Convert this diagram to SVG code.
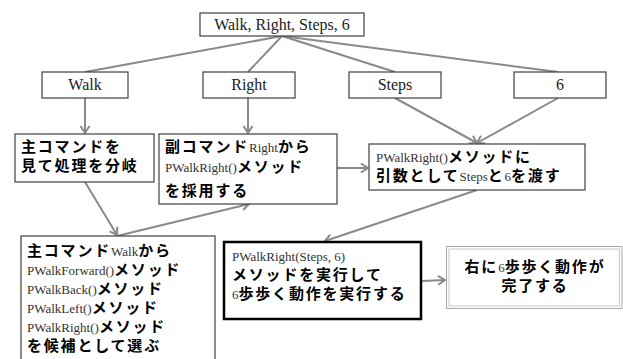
<svg xmlns="http://www.w3.org/2000/svg" width="623" height="359" viewBox="0 0 623 359">
<style>
.box{fill:#fff;stroke:#404040;stroke-width:1.2}
.thick{fill:#fff;stroke:#000;stroke-width:2.5}
.top{font-family:"Liberation Serif",serif;font-size:16px;fill:#222;text-anchor:middle}
.jp{font-family:"Noto Sans CJK JP",sans-serif;font-size:15px;font-weight:700;fill:#000;letter-spacing:1.8px}
.s{font-family:"Liberation Serif",serif;font-size:13px;font-weight:400;fill:#333;letter-spacing:0}
.con{stroke:#8a8a8a;stroke-width:2;fill:none}
.arr{marker-end:url(#ah)}
</style>
<defs>
<marker id="ah" markerUnits="userSpaceOnUse" markerWidth="12" markerHeight="12" refX="9" refY="6" orient="auto">
<path d="M2,1.5 L9,6 L2,10.5" fill="none" stroke="#8a8a8a" stroke-width="2"/>
</marker>
</defs>
<rect width="623" height="359" fill="#fff"/>
<g id="connectors">
<line class="con" x1="282" y1="36" x2="85" y2="72"/>
<line class="con" x1="282" y1="36" x2="248" y2="72"/>
<line class="con" x1="282" y1="36" x2="395" y2="72"/>
<line class="con" x1="282" y1="36" x2="558" y2="72"/>
<line class="con arr" x1="85" y1="98" x2="85" y2="133"/>
<line class="con arr" x1="248" y1="98" x2="248" y2="133"/>
<line class="con arr" x1="395" y1="98" x2="477" y2="143"/>
<line class="con arr" x1="558" y1="98" x2="477" y2="143"/>
<line class="con arr" x1="337" y1="168" x2="368" y2="168"/>
<line class="con arr" x1="85" y1="182" x2="117" y2="235"/>
<line class="con arr" x1="117" y1="236" x2="249" y2="204"/>
<line class="con arr" x1="477" y1="190" x2="325" y2="241"/>
<line class="con arr" x1="422" y1="281" x2="445" y2="280"/>
</g>
<g id="n-root">
<rect class="box" x="200" y="13" width="164" height="23"/>
<text class="top" x="282" y="30">Walk, Right, Steps, 6</text>
</g>
<g id="n-walk">
<rect class="box" x="42" y="72" width="86" height="26"/>
<text class="top" x="85" y="90">Walk</text>
</g>
<g id="n-right">
<rect class="box" x="203" y="72" width="92" height="26"/>
<text class="top" x="249" y="90">Right</text>
</g>
<g id="n-steps">
<rect class="box" x="349" y="72" width="92" height="26"/>
<text class="top" x="395" y="90">Steps</text>
</g>
<g id="n-6">
<rect class="box" x="514" y="72" width="92" height="26"/>
<text class="top" x="560" y="90">6</text>
</g>
<g id="n-branch">
<rect class="box" x="15" y="134" width="139" height="48"/>
<text class="jp" x="21" y="152">主コマンドを</text>
<text class="jp" x="21" y="171">見て処理を分岐</text>
</g>
<g id="n-sub">
<rect class="box" x="159" y="134" width="178" height="70"/>
<text class="jp" x="165" y="152">副コマンド<tspan class="s">Right</tspan>から</text>
<text class="jp" x="165" y="172"><tspan class="s">PWalkRight()</tspan>メソッド</text>
<text class="jp" x="165" y="196">を採用する</text>
</g>
<g id="n-args">
<rect class="box" x="369" y="144" width="216" height="46"/>
<text class="jp" x="376" y="162"><tspan class="s">PWalkRight()</tspan>メソッドに</text>
<text class="jp" x="376" y="181">引数として<tspan class="s">Steps</tspan>と<tspan class="s">6</tspan>を渡す</text>
</g>
<g id="n-candidates">
<rect class="box" x="21" y="236" width="194" height="140"/>
<text class="jp" x="27" y="256">主コマンド<tspan class="s">Walk</tspan>から</text>
<text class="jp" x="27" y="275"><tspan class="s">PWalkForward()</tspan>メソッド</text>
<text class="jp" x="27" y="294"><tspan class="s">PWalkBack()</tspan>メソッド</text>
<text class="jp" x="27" y="313"><tspan class="s">PWalkLeft()</tspan>メソッド</text>
<text class="jp" x="27" y="332"><tspan class="s">PWalkRight()</tspan>メソッド</text>
<text class="jp" x="27" y="351">を候補として選ぶ</text>
</g>
<g id="n-exec">
<rect class="thick" x="224" y="242" width="197" height="77"/>
<text class="s" x="232" y="261">PWalkRight(Steps, 6)</text>
<text class="jp" x="232" y="280">メソッドを実行して</text>
<text class="jp" x="232" y="299"><tspan class="s">6</tspan>歩歩く動作を実行する</text>
</g>
<g id="n-done">
<rect x="446.5" y="246.5" width="175.5" height="62" fill="#fff" stroke="#a8a8a8" stroke-width="1"/>
<rect x="449" y="249" width="170.5" height="57" fill="none" stroke="#c8c8c8" stroke-width="1"/>
<text class="jp" x="535" y="272" text-anchor="middle">右に<tspan class="s">6</tspan>歩歩く動作が</text>
<text class="jp" x="535" y="291" text-anchor="middle">完了する</text>
</g>
</svg>
